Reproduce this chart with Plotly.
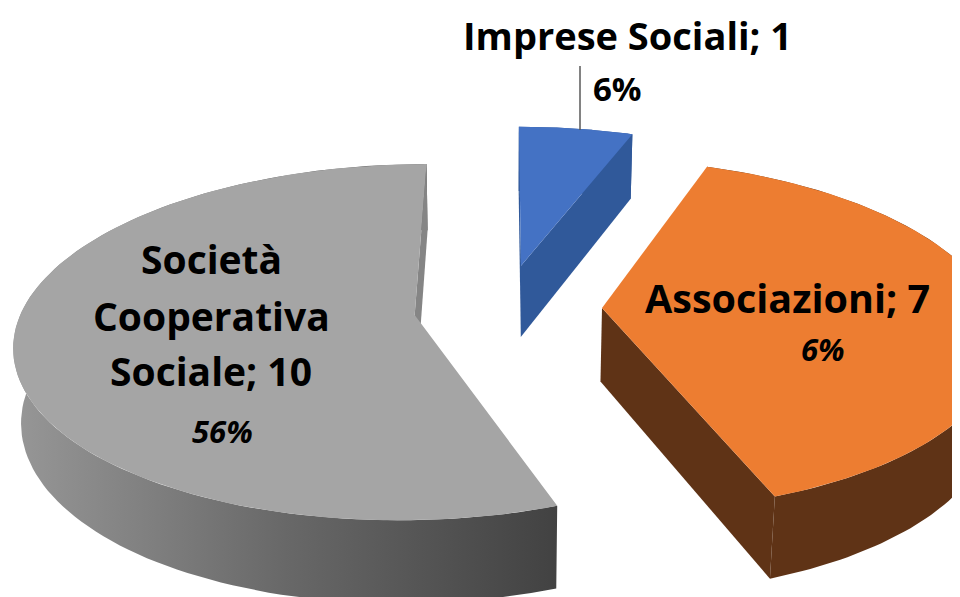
import numpy as np
import plotly.graph_objects as go

# ---- data ----
categories = ["Imprese Sociali", "Associazioni", "Società Cooperativa Sociale"]
values = [1, 7, 10]
pct_labels = ["6%", "6%", "56%"]          # as printed on the chart
explode = [0.26, 0.25, 0.23]

top_colors = ["#4472C4", "#ED7D31", "#A5A5A5"]
side_colors = ["#30599A", "#5F3316", "#8A8A8A"]

# ---- 3D projection settings (style) ----
W, Hpx = 960, 597
CX, CY = 496, 300
R = 392
ELEV = np.deg2rad(26)
D = 5.9
THICK = 0.212
cam_xy = np.array([0.0, -D * np.cos(ELEV)])


def project(X, Y, Z):
    X = np.asarray(X, float); Y = np.asarray(Y, float); Z = np.asarray(Z, float)
    sy = Y * np.sin(ELEV) + Z * np.cos(ELEV)
    depth = Y * np.cos(ELEV) - Z * np.sin(ELEV)
    p = D / (D + depth)
    return CX + R * X * p, CY - R * sy * p


fig = go.Figure()
total = sum(values)
angles = np.concatenate([[0], np.cumsum(values) / total * 2 * np.pi])

# draw order: back (blue) then gray then orange
order = [0, 2, 1]
for i in order:
    a0, a1 = angles[i], angles[i + 1]
    am = (a0 + a1) / 2
    ox, oy = explode[i] * np.sin(am), explode[i] * np.cos(am)
    t = np.linspace(a0, a1, 120)
    ax, ay = ox + np.sin(t), oy + np.cos(t)

    # outer wall ribbon
    tx, ty = project(ax, ay, np.zeros_like(t))
    bx, by = project(ax, ay, -THICK * np.ones_like(t))
    wx = np.concatenate([tx, bx[::-1], tx[:1]])
    wy = np.concatenate([ty, by[::-1], ty[:1]])
    wall = dict(x=wx, y=wy, mode="lines", fill="toself", line=dict(width=0),
                hoverinfo="skip", showlegend=False)
    if i == 2:
        wall["fillgradient"] = dict(type="horizontal",
                                    colorscale=[[0, "#979797"], [0.5, "#686868"], [1, "#424242"]])
    else:
        wall["fillcolor"] = side_colors[i]
    fig.add_trace(go.Scatter(**wall))

    # radial cut faces (only those facing the camera)
    rel = cam_xy - np.array([ox, oy])
    for ang, sgn in ((a0, -1), (a1, 1)):
        na = ang + sgn * np.pi / 2
        n = np.array([np.sin(na), np.cos(na)])
        if n @ rel <= 0:
            continue
        ex, ey = ox + np.sin(ang), oy + np.cos(ang)
        fx, fy = project([ox, ex, ex, ox, ox], [oy, ey, ey, oy, oy],
                         [0, 0, -THICK, -THICK, 0])
        col = side_colors[i] if i != 2 else "#858585"
        fig.add_trace(go.Scatter(x=fx, y=fy, mode="lines", fill="toself",
                                 fillcolor=col, line=dict(width=0),
                                 hoverinfo="skip", showlegend=False))

    # top face
    px, py = project(np.concatenate([[ox], ax, [ox]]),
                     np.concatenate([[oy], ay, [oy]]),
                     np.zeros(len(t) + 2))
    fig.add_trace(go.Scatter(x=px, y=py, mode="lines", fill="toself",
                             fillcolor=top_colors[i], line=dict(width=0),
                             name=categories[i], hoverinfo="name", showlegend=False))

# ---- labels ----
FONT = "'Open Sans', Lato, sans-serif"
ann = []


def label(x, y, text, size, yanchor="middle"):
    ann.append(dict(x=x, y=y, xref="x", yref="y", text=text, showarrow=False,
                    xanchor="center", yanchor=yanchor, borderpad=0,
                    font=dict(family=FONT, size=size, color="#000000")))


label(619, 0, f"<b>{categories[0]}; {values[0]}</b>", 38, yanchor="top")
label(609, 80, f"<b>{pct_labels[0]}</b>", 33)
label(779, 290, f"<b>{categories[1]}; {values[1]}</b>", 39.5)
label(815, 341, f"<b><i>{pct_labels[1]}</i></b>", 31)
soc_lines = ["Società", "Cooperativa", f"Sociale; {values[2]}"]
for ln, yy in zip(soc_lines, [250, 307, 362]):
    label(203, yy, f"<b>{ln}</b>", 39)
label(214, 423, f"<b><i>{pct_labels[2]}</i></b>", 31)

fig.update_layout(
    width=W, height=Hpx,
    margin=dict(l=0, r=0, t=0, b=0),
    paper_bgcolor="white", plot_bgcolor="white",
    xaxis=dict(range=[0, W], visible=False, fixedrange=True),
    yaxis=dict(range=[Hpx, 0], visible=False, fixedrange=True),
    annotations=ann,
    shapes=[dict(type="line", xref="x", yref="y", x0=572, x1=572, y0=58, y1=122,
                 line=dict(color="#595959", width=1.5))],
    showlegend=False,
)

fig.write_html("out.html")
